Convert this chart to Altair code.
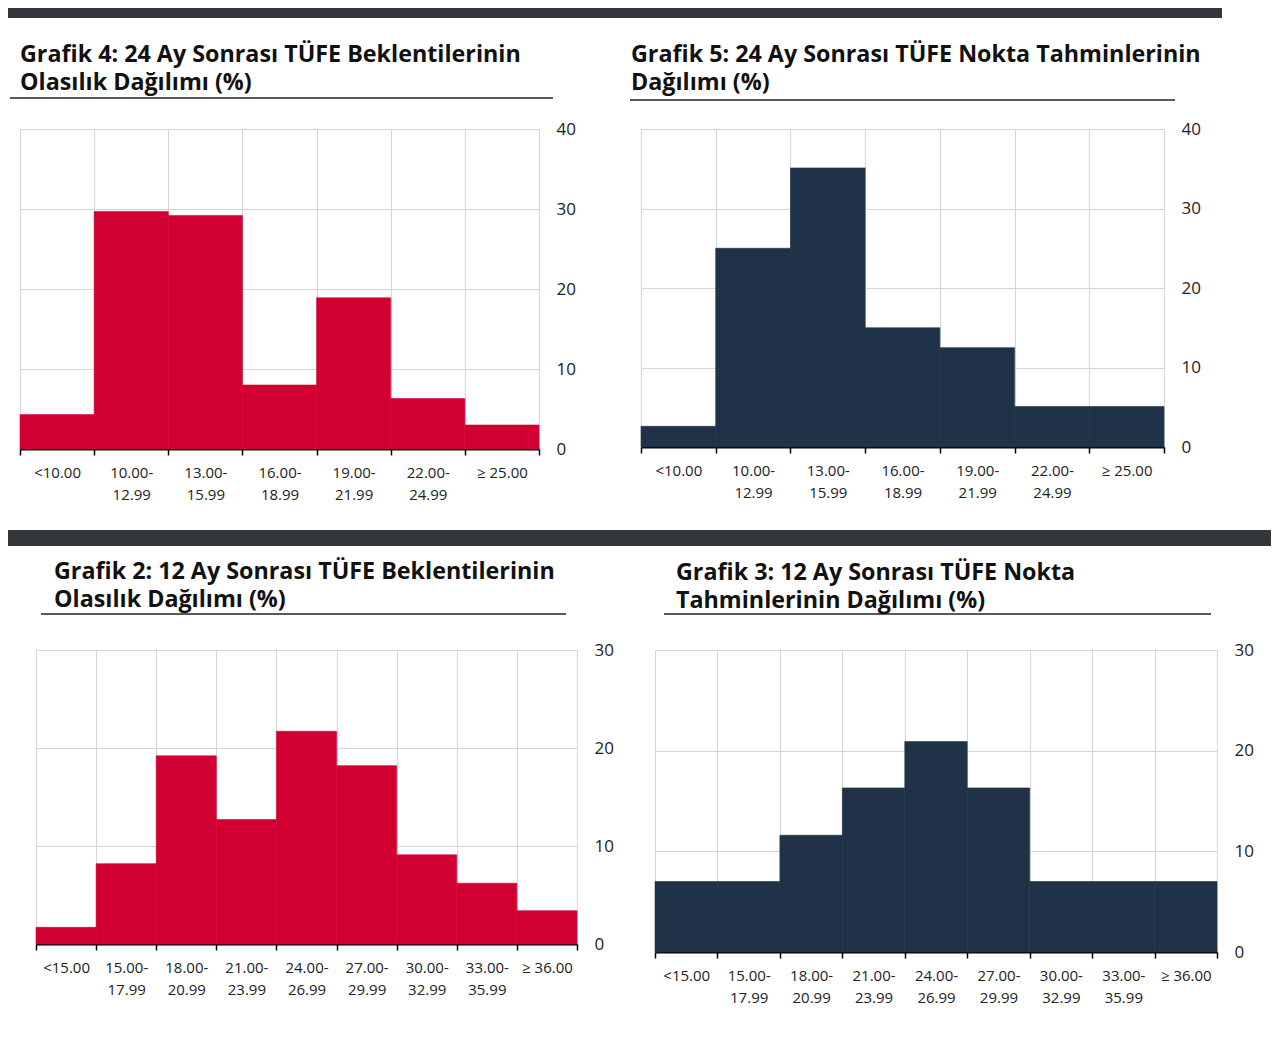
import altair as alt
import pandas as pd

# ---- data ----
cats_24 = ["<10.00", "10.00-12.99", "13.00-15.99", "16.00-18.99",
           "19.00-21.99", "22.00-24.99", "≥ 25.00"]
grafik4_vals = [4.3, 29.7, 29.2, 8.0, 18.9, 6.3, 3.0]
grafik5_vals = [2.6, 25.0, 35.1, 15.0, 12.5, 5.1, 5.1]

cats_12 = ["<15.00", "15.00-17.99", "18.00-20.99", "21.00-23.99", "24.00-26.99",
           "27.00-29.99", "30.00-32.99", "33.00-35.99", "≥ 36.00"]
grafik2_vals = [1.7, 8.2, 19.2, 12.7, 21.7, 18.2, 9.1, 6.2, 3.4]
grafik3_vals = [7.0, 7.0, 11.6, 16.3, 20.9, 16.3, 7.0, 7.0, 7.0]

y_ticks_40 = [0, 10, 20, 30, 40]
y_ticks_30 = [0, 10, 20, 30]

title4 = ["Grafik 4: 24 Ay Sonrası TÜFE Beklentilerinin", "Olasılık Dağılımı (%)"]
title5 = ["Grafik 5: 24 Ay Sonrası TÜFE Nokta Tahminlerinin", "Dağılımı (%)"]
title2 = ["Grafik 2: 12 Ay Sonrası TÜFE Beklentilerinin", "Olasılık Dağılımı (%)"]
title3 = ["Grafik 3: 12 Ay Sonrası TÜFE Nokta", "Tahminlerinin Dağılımı (%)"]

RED = "#D20032"
NAVY = "#1F3247"
GRID = "#D5D5D5"
DARK = "#33373B"
FONT = "Open Sans"

ONE = alt.Data(values=[{"v": 0}])


def box(w, h, color="#FFFFFF"):
    """A plain block (white spacer, or a dark separator band)."""
    return alt.Chart(ONE).mark_rect(color=color, strokeWidth=0).encode(
        x=alt.value(0), x2=alt.value(w), y=alt.value(0), y2=alt.value(h)
    ).properties(width=w, height=h)


def panel(cats, vals, color, ymax, yvals, title, w, h, tdx, toff,
          ux1, ux2, uy, L, R, T, B):
    df = pd.DataFrame({"aralik": cats, "pay": vals})
    bars = alt.Chart(df).mark_bar(color=color, stroke=color, strokeWidth=0.6).encode(
        x=alt.X(
            "aralik:N", sort=cats, title=None,
            scale=alt.Scale(paddingInner=0, paddingOuter=0),
            axis=alt.Axis(
                tickBand="extent", grid=True, gridColor=GRID, gridWidth=1,
                domainColor="#000", domainWidth=2, tickColor="#000", tickSize=6,
                tickWidth=1.5, labelAngle=0, labelFont=FONT, labelFontSize=15,
                labelColor="#222", labelPadding=10, labelLineHeight=22,
                labelBaseline="top", labelOverlap=False,
                labelExpr="split(replace(datum.label, '-', '-|'), '|')",
            ),
        ),
        y=alt.Y(
            "pay:Q", title=None,
            scale=alt.Scale(domain=[0, ymax], nice=False),
            axis=alt.Axis(
                orient="right", values=yvals, grid=True, gridColor=GRID, gridWidth=1,
                domain=False, ticks=False, tickSize=0, labelPadding=17,
                labelFont=FONT, labelFontSize=17, labelColor="#222",
            ),
        ),
    )
    underline = alt.Chart(ONE).mark_rule(color="#5A5A5A", strokeWidth=2).encode(
        x=alt.value(ux1), x2=alt.value(ux2), y=alt.value(uy)
    )
    # invisible frame that fixes the panel's extent for the layout
    frame = alt.Chart(ONE).mark_rect(opacity=0, strokeWidth=0).encode(
        x=alt.value(-L), x2=alt.value(w + R), y=alt.value(-T), y2=alt.value(h + B)
    )
    return alt.layer(frame, bars, underline).properties(
        width=w, height=h,
        title=alt.TitleParams(
            text=title, anchor="start", frame="group", dx=tdx, offset=toff,
            font=FONT, fontSize=23.3, fontWeight="bold", color="#111",
            lineHeight=28, baseline="top",
        ),
    )


p4 = panel(cats_24, grafik4_vals, RED, 40, y_ticks_40, title4, 519, 320,
           0, -77.5, -10, 533, -31, 11, 88, 111, 81)
p5 = panel(cats_24, grafik5_vals, NAVY, 40, y_ticks_40, title5, 523, 318,
           -10, -77.4, -11, 534, -29, 14, 50, 111, 83)
p2 = panel(cats_12, grafik2_vals, RED, 30, y_ticks_30, title2, 541, 294,
           18, -66.4, 5, 530, -36, 2, 76, 104, 60)
p3 = panel(cats_12, grafik3_vals, NAVY, 30, y_ticks_30, title3, 562, 302,
           21, -67.4, 9, 556, -36, 2, 45, 104, 60)

row1 = alt.hconcat(box(1, 1), p4, p5, spacing=0)
row2 = alt.hconcat(box(26, 1), p2, p3, spacing=0)

chart = alt.vconcat(
    box(1214, 10, DARK), row1, box(1263, 16, DARK), row2, spacing=0
).properties(padding=0).configure(font=FONT).configure_view(
    stroke="transparent", strokeWidth=0, strokeOpacity=0
)

chart.save("out.html", embed_options={"renderer": "svg", "actions": False})
